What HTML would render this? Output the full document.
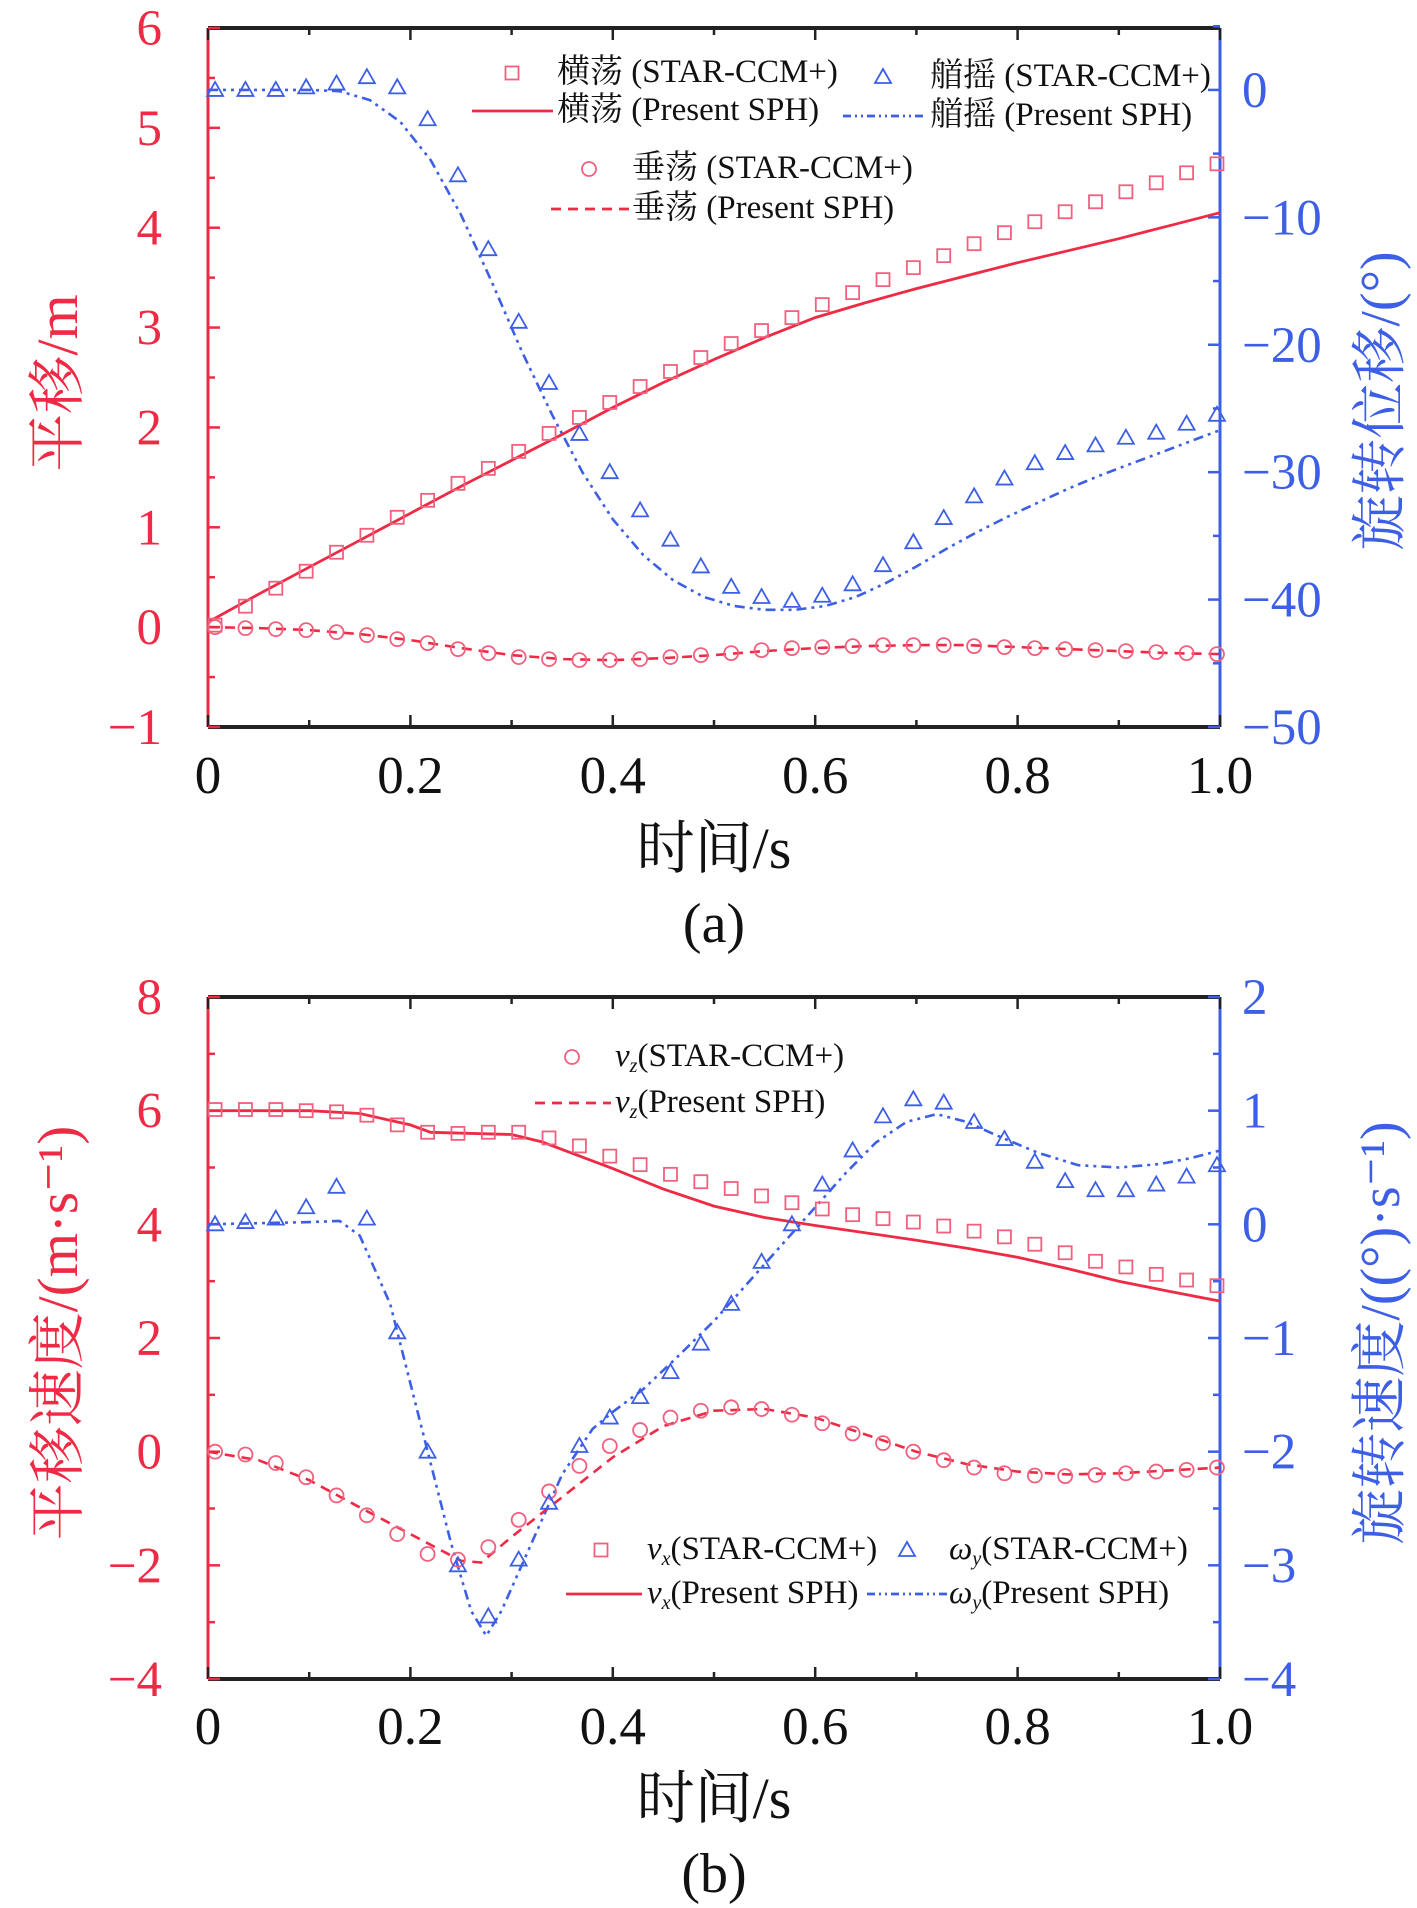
<!DOCTYPE html>
<html><head><meta charset="utf-8">
<style>
html,body{margin:0;padding:0;background:#fff;}
svg{display:block;}
text{font-family:"Liberation Serif","Noto Serif CJK SC",serif;}
</style></head>
<body>
<svg id="fig" width="1417" height="1908" viewBox="0 0 1417 1908" xmlns="http://www.w3.org/2000/svg"></svg>
<script>
// ---------- Chart (a) data ----------
const xsMarks = [0.007,0.037,0.067,0.097,0.127,0.157,0.187,0.217,0.247,0.277,0.307,0.337,0.367,0.397,0.427,0.457,0.487,0.517,0.547,0.577,0.607,0.637,0.667,0.697,0.727,0.757,0.787,0.817,0.847,0.877,0.907,0.937,0.967,0.997];
const surgeStar = [0.02,0.21,0.39,0.56,0.75,0.92,1.10,1.27,1.44,1.59,1.76,1.94,2.10,2.25,2.41,2.56,2.70,2.84,2.97,3.10,3.23,3.35,3.48,3.60,3.72,3.84,3.95,4.06,4.16,4.26,4.36,4.45,4.55,4.64];
const lineX = [0,0.05,0.1,0.15,0.2,0.25,0.3,0.35,0.4,0.45,0.5,0.55,0.6,0.65,0.7,0.75,0.8,0.85,0.9,0.95,1.0];
const surgeSph = [0.05,0.33,0.6,0.87,1.14,1.41,1.67,1.93,2.2,2.45,2.68,2.9,3.1,3.25,3.39,3.52,3.65,3.77,3.89,4.02,4.15];
const heaveStar = [0.0,-0.01,-0.02,-0.03,-0.05,-0.08,-0.12,-0.16,-0.22,-0.26,-0.3,-0.32,-0.33,-0.33,-0.32,-0.3,-0.28,-0.26,-0.23,-0.21,-0.2,-0.19,-0.18,-0.18,-0.18,-0.19,-0.2,-0.21,-0.22,-0.23,-0.24,-0.25,-0.26,-0.27];
const heaveSph = [0,-0.01,-0.03,-0.07,-0.13,-0.21,-0.28,-0.32,-0.33,-0.31,-0.28,-0.24,-0.21,-0.19,-0.18,-0.18,-0.2,-0.22,-0.24,-0.26,-0.27];
const pitchStar = [0,0,0,0.2,0.5,1.0,0.2,-2.3,-6.7,-12.5,-18.2,-23,-27,-30,-33,-35.3,-37.4,-39,-39.8,-40.1,-39.7,-38.8,-37.3,-35.5,-33.6,-31.9,-30.5,-29.3,-28.5,-27.9,-27.3,-26.9,-26.2,-25.5];
const pitchX = [0,0.1,0.13,0.16,0.19,0.22,0.25,0.28,0.31,0.34,0.37,0.40,0.43,0.46,0.49,0.52,0.55,0.58,0.61,0.64,0.67,0.70,0.73,0.76,0.79,0.82,0.85,0.88,0.91,0.94,0.97,1.0];
const pitchSph = [0,0,-0.1,-0.8,-2.5,-5.5,-9.8,-15,-20.5,-25.5,-30,-33.7,-36.5,-38.5,-39.8,-40.5,-40.8,-40.8,-40.5,-39.8,-38.7,-37.4,-36,-34.7,-33.5,-32.4,-31.3,-30.3,-29.4,-28.5,-27.6,-26.7];
const xTicks = ["0","0.2","0.4","0.6","0.8","1.0"];
const aLeftTicks = [6,5,4,3,2,1,0,-1];
const aRightTicks = [0,-10,-20,-30,-40,-50];
// ---------- Chart (b) data ----------
const vxStar = [6.02,6.02,6.02,6.0,5.98,5.92,5.75,5.62,5.6,5.62,5.62,5.52,5.38,5.2,5.05,4.88,4.75,4.63,4.5,4.38,4.27,4.17,4.1,4.04,3.97,3.88,3.78,3.65,3.5,3.35,3.25,3.12,3.02,2.92];
const vxX = [0,0.1,0.15,0.2,0.22,0.3,0.33,0.36,0.4,0.45,0.5,0.55,0.6,0.65,0.7,0.75,0.8,0.85,0.9,0.95,1.0];
const vxSph = [6.0,6.0,5.95,5.75,5.62,5.58,5.45,5.25,4.98,4.62,4.32,4.12,3.98,3.85,3.72,3.58,3.42,3.22,3.0,2.82,2.65];
const vzStar = [0.0,-0.05,-0.2,-0.45,-0.77,-1.12,-1.45,-1.8,-1.9,-1.68,-1.2,-0.7,-0.25,0.1,0.38,0.6,0.72,0.78,0.75,0.65,0.5,0.32,0.15,0.0,-0.15,-0.28,-0.38,-0.42,-0.43,-0.41,-0.38,-0.35,-0.32,-0.28];
const vzX = [0,0.05,0.1,0.15,0.2,0.25,0.27,0.3,0.35,0.4,0.45,0.5,0.55,0.6,0.65,0.7,0.75,0.8,0.85,0.9,0.95,1.0];
const vzSph = [0,-0.15,-0.5,-0.98,-1.45,-1.92,-1.95,-1.5,-0.8,-0.1,0.45,0.72,0.75,0.6,0.3,0.0,-0.22,-0.35,-0.4,-0.38,-0.33,-0.28];
const wyStar = [0.0,0.02,0.05,0.15,0.33,0.05,-0.95,-2.0,-3.0,-3.45,-2.95,-2.45,-1.95,-1.7,-1.52,-1.3,-1.05,-0.7,-0.33,0.0,0.35,0.65,0.95,1.1,1.07,0.9,0.75,0.55,0.38,0.3,0.3,0.35,0.42,0.52];
const wyX = [0,0.1,0.13,0.15,0.18,0.2,0.22,0.24,0.26,0.275,0.29,0.32,0.35,0.38,0.4,0.43,0.46,0.5,0.54,0.58,0.6,0.63,0.66,0.69,0.72,0.75,0.78,0.82,0.86,0.9,0.94,0.97,1.0];
const wySph = [0,0.02,0.03,-0.1,-0.7,-1.4,-2.1,-2.8,-3.4,-3.62,-3.4,-2.8,-2.2,-1.8,-1.65,-1.45,-1.2,-0.85,-0.45,-0.05,0.15,0.45,0.72,0.9,0.97,0.9,0.78,0.63,0.52,0.5,0.53,0.58,0.65];
const bLeftTicks = [8,6,4,2,0,-2,-4];
const bRightTicks = [2,1,0,-1,-2,-3,-4];

const RED="#ee2a44", PINK="#f2607e", BLUE="#3d5fe6", NS="http://www.w3.org/2000/svg";
const svg=document.getElementById('fig');
function el(tag,attrs,parent){const e=document.createElementNS(NS,tag);for(const k in attrs)e.setAttribute(k,attrs[k]);(parent||svg).appendChild(e);return e;}
function txt(s,attrs,parent){const t=el('text',attrs,parent);t.textContent=s;return t;}

function makeChart(cfg){
  const g=el('g',{});
  
  
  const L=208,R=1220,T=cfg.top,B=cfg.bottom;
  const sx=v=>L+(R-L)*v;
  const syL=v=>T+(cfg.lMax-v)/(cfg.lMax-cfg.lMin)*(B-T);
  const syR=v=>T+(cfg.rMax-v)/(cfg.rMax-cfg.rMin)*(B-T);
  cfg.sx=sx;cfg.syL=syL;cfg.syR=syR;cfg.g=g;
  let a=el('line',{x1:L,y1:T,x2:R,y2:T,stroke:'#222','stroke-width':4},g);
  
  a=el('line',{x1:L,y1:B,x2:R,y2:B,stroke:'#222','stroke-width':4},g);
  
  a=el('line',{x1:L,y1:T,x2:L,y2:B,stroke:RED,'stroke-width':3},g);
  
  a=el('line',{x1:R,y1:T,x2:R,y2:B,stroke:BLUE,'stroke-width':3},g);
  
  for(let i=0;i<=10;i++){const v=i/10,x=sx(v),len=i%2?7:12;
    el('line',{x1:x,y1:B,x2:x,y2:B-len,stroke:'#222','stroke-width':2.5},g);
    el('line',{x1:x,y1:T,x2:x,y2:T+len,stroke:'#222','stroke-width':2.5},g);}
  xTicks.forEach((s,i)=>{const t=txt(s,{x:sx(i*0.2),y:cfg.xlabY,'font-size':53,'text-anchor':'middle',fill:'#111'},g);
    });
  const lt=cfg.lTicks, lstep=(lt[0]-lt[1]);
  lt.forEach(v=>{const y=syL(v);el('line',{x1:L,y1:y,x2:L+12,y2:y,stroke:RED,'stroke-width':2.5},g);
    if(v>cfg.lMin){const ym=syL(v-lstep/2);el('line',{x1:L,y1:ym,x2:L+7,y2:ym,stroke:RED,'stroke-width':2.5},g);}
    const t=txt(v<0?'\u2212'+(-v):String(v),{x:162,y:y+17,'font-size':51,'text-anchor':'end',fill:RED},g);
    });
  const rt=cfg.rTicks, rstep=(rt[0]-rt[1]);
  rt.forEach(v=>{const y=syR(v);el('line',{x1:R,y1:y,x2:R-12,y2:y,stroke:BLUE,'stroke-width':2.5},g);
    if(v>cfg.rMin){const ym=syR(v-rstep/2);el('line',{x1:R,y1:ym,x2:R-7,y2:ym,stroke:BLUE,'stroke-width':2.5},g);}
    const t=txt(v<0?'\u2212'+(-v):String(v),{x:1242,y:y+17,'font-size':51,'text-anchor':'start',fill:BLUE},g);
    });
  if(cfg.rMax>rt[0]){const ym=syR(rt[0]+rstep/2);el('line',{x1:R,y1:ym,x2:R-7,y2:ym,stroke:BLUE,'stroke-width':2.5},g);}
  let t=txt('时间/s',{x:714,y:cfg.xtitleY,'font-size':58,'text-anchor':'middle',fill:'#111'},g);
  
  t=txt(cfg.lTitle,{x:0,y:0,'font-size':cfg.lSize,'text-anchor':'middle',fill:RED,transform:`translate(77,${cfg.lTitleY}) rotate(-90)`},g);
  
  t=txt(cfg.rTitle,{x:0,y:0,'font-size':cfg.rSize,'text-anchor':'middle',fill:BLUE,transform:`translate(1399,${cfg.rTitleY}) rotate(-90)`},g);
  
  t=txt(cfg.label,{x:714,y:cfg.labelY,'font-size':56,'text-anchor':'middle',fill:'#111'},g);
  
  return cfg;
}
function line(c,xs,ys,sy,color,dash,name){
  const d=xs.map((x,i)=>(i?'L':'M')+c.sx(x).toFixed(1)+','+sy(ys[i]).toFixed(1)).join('');
  const p=el('path',{d:d,fill:'none',stroke:color,'stroke-width':dash?2.6:2.8,'stroke-dasharray':dash||'none'},c.g);
  
}
function marker(parent,type,x,y,color){
  let m;
  if(type==='sq') m=el('rect',{x:x-6.5,y:y-6.5,width:13,height:13,fill:'none',stroke:color,'stroke-width':1.8},parent);
  else if(type==='ci') m=el('circle',{cx:x,cy:y,r:7,fill:'none',stroke:color,'stroke-width':1.8},parent);
  else m=el('path',{d:`M${x},${y-8}L${x+8},${y+6}L${x-8},${y+6}Z`,fill:'none',stroke:color,'stroke-width':1.8},parent);
  return m;
}
function marks(c,xs,ys,sy,type,color,name){
  const g=el('g',{},c.g);
  
  xs.forEach((x,i)=>{const m=marker(g,type,c.sx(x),sy(ys[i]),color);
    
    });
}
function legend(c,items){
  const g=el('g',{},c.g);
  
  items.forEach(it=>{
    const e=el('g',{},g);
    
    if(it.m) marker(e,it.m,it.mx,it.y-9,it.color);
    else el('line',{x1:it.lx1,y1:it.y-9,x2:it.lx2,y2:it.y-9,stroke:it.color,'stroke-width':2.8,'stroke-dasharray':it.dash||'none'},e);
    const t=el('text',{x:it.tx,y:it.y,'font-size':33,fill:'#111'},e);
    t.innerHTML=it.html;
  });
}
const A=makeChart({name:'chart-a',top:28,bottom:727,lMax:6,lMin:-1,rMax:4.86,rMin:-50,lTicks:aLeftTicks,rTicks:aRightTicks,
  xlabY:793,xtitleY:868,labelY:942,lTitle:'平移/m',lTitleY:383,lSize:58,rTitle:'旋转位移/(°)',rTitleY:401,rSize:56,label:'(a)'});
line(A,pitchX,pitchSph,A.syR,BLUE,'10,5,3,5,3,5','pitch-sph-line');
line(A,lineX,surgeSph,A.syL,RED,null,'surge-sph-line');
line(A,lineX,heaveSph,A.syL,RED,'10,7','heave-sph-line');
marks(A,xsMarks,surgeStar,A.syL,'sq',PINK,'surge-star-markers');
marks(A,xsMarks,heaveStar,A.syL,'ci',PINK,'heave-star-markers');
marks(A,xsMarks,pitchStar,A.syR,'tr',BLUE,'pitch-star-markers');
legend(A,[
 {m:'sq',mx:512,y:82,color:PINK,tx:557,html:'横荡 (STAR-CCM+)'},
 {lx1:472,lx2:553,y:120,color:RED,tx:557,html:'横荡 (Present SPH)'},
 {m:'tr',mx:883,y:86,color:BLUE,tx:930,html:'艏摇 (STAR-CCM+)'},
 {lx1:843,lx2:924,y:125,color:BLUE,dash:'8,4,2,4,2,4',tx:930,html:'艏摇 (Present SPH)'},
 {m:'ci',mx:589,y:178,color:PINK,tx:632,html:'垂荡 (STAR-CCM+)'},
 {lx1:551,lx2:630,y:218,color:RED,dash:'10,7',tx:632,html:'垂荡 (Present SPH)'}
]);
const B=makeChart({name:'chart-b',top:997,bottom:1679,lMax:8,lMin:-4,rMax:2,rMin:-4,lTicks:bLeftTicks,rTicks:bRightTicks,
  xlabY:1744,xtitleY:1818,labelY:1892,lTitle:'平移速度/(m·s⁻¹)',lTitleY:1333,lSize:57,rTitle:'旋转速度/((°)·s⁻¹)',rTitleY:1333,rSize:56,label:'(b)'});
line(B,wyX,wySph,B.syR,BLUE,'10,5,3,5,3,5','wy-sph-line');
line(B,vxX,vxSph,B.syL,RED,null,'vx-sph-line');
line(B,vzX,vzSph,B.syL,RED,'10,7','vz-sph-line');
marks(B,xsMarks,vxStar,B.syL,'sq',PINK,'vx-star-markers');
marks(B,xsMarks,vzStar,B.syL,'ci',PINK,'vz-star-markers');
marks(B,xsMarks,wyStar,B.syR,'tr',BLUE,'wy-star-markers');
legend(B,[
 {m:'ci',mx:572,y:1066,color:PINK,tx:615,html:'<tspan font-style="italic">v</tspan><tspan font-style="italic" font-size="20" dy="6">z</tspan><tspan dy="-6">(STAR-CCM+)</tspan>'},
 {lx1:535,lx2:611,y:1112,color:RED,dash:'10,7',tx:615,html:'<tspan font-style="italic">v</tspan><tspan font-style="italic" font-size="20" dy="6">z</tspan><tspan dy="-6">(Present SPH)</tspan>'},
 {m:'sq',mx:601,y:1559,color:PINK,tx:647,html:'<tspan font-style="italic">v</tspan><tspan font-style="italic" font-size="20" dy="6">x</tspan><tspan dy="-6">(STAR-CCM+)</tspan>'},
 {m:'tr',mx:907,y:1559,color:BLUE,tx:949,html:'<tspan font-style="italic">ω</tspan><tspan font-style="italic" font-size="20" dy="6">y</tspan><tspan dy="-6">(STAR-CCM+)</tspan>'},
 {lx1:566,lx2:642,y:1603,color:RED,tx:647,html:'<tspan font-style="italic">v</tspan><tspan font-style="italic" font-size="20" dy="6">x</tspan><tspan dy="-6">(Present SPH)</tspan>'},
 {lx1:867,lx2:947,y:1603,color:BLUE,dash:'8,4,2,4,2,4',tx:949,html:'<tspan font-style="italic">ω</tspan><tspan font-style="italic" font-size="20" dy="6">y</tspan><tspan dy="-6">(Present SPH)</tspan>'}
]);
</script>
</body></html>
